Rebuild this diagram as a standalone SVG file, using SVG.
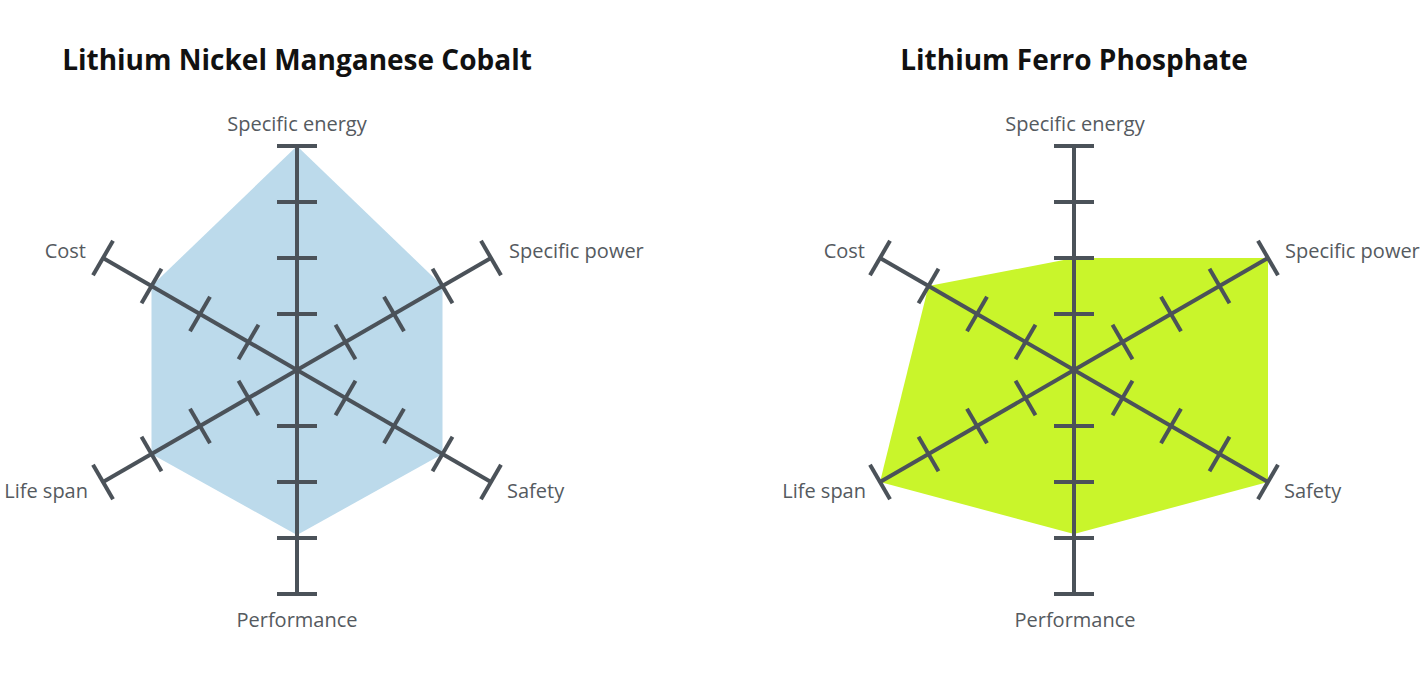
<svg xmlns="http://www.w3.org/2000/svg" xmlns:xlink="http://www.w3.org/1999/xlink" width="1426" height="678" viewBox="0 0 1426 678">
<style>
.title{font-family:"Open Sans","Liberation Sans",sans-serif;font-weight:700;font-size:28px;fill:#111;text-anchor:middle}
.lbl{font-family:"Open Sans","Liberation Sans",sans-serif;font-weight:400;font-size:20px;fill:#555a60}
.ax{stroke:#4b5259;stroke-width:4;fill:none}
.nmc{fill:#bcdaeb}
.lfp{fill:#c9f52b}
</style>
<defs>
<g id="arm">
<line class="ax" x1="0" y1="0" x2="0" y2="-224"/>
<line class="ax" x1="-20" y1="-56" x2="20" y2="-56"/>
<line class="ax" x1="-20" y1="-112" x2="20" y2="-112"/>
<line class="ax" x1="-20" y1="-168" x2="20" y2="-168"/>
<line class="ax" x1="-20" y1="-224" x2="20" y2="-224"/>
</g>
<g id="axes">
<use xlink:href="#arm" href="#arm"/>
<use xlink:href="#arm" href="#arm" transform="rotate(60)"/>
<use xlink:href="#arm" href="#arm" transform="rotate(120)"/>
<use xlink:href="#arm" href="#arm" transform="rotate(180)"/>
<use xlink:href="#arm" href="#arm" transform="rotate(240)"/>
<use xlink:href="#arm" href="#arm" transform="rotate(300)"/>
</g>
</defs>
<rect width="1426" height="678" fill="#ffffff"/>

<g id="chart-nmc">
<text class="title" x="297" y="70">Lithium Nickel Manganese Cobalt</text>
<polygon class="nmc" points="297,146 442.5,286 442.5,454 297,535 151.5,454 151.5,286"/>
<use xlink:href="#axes" href="#axes" transform="translate(297,370)"/>
<text class="lbl" x="297" y="131" text-anchor="middle">Specific energy</text>
<text class="lbl" x="509" y="258">Specific power</text>
<text class="lbl" x="507" y="498">Safety</text>
<text class="lbl" x="297" y="627" text-anchor="middle">Performance</text>
<text class="lbl" x="88" y="498" text-anchor="end">Life span</text>
<text class="lbl" x="86" y="258" text-anchor="end">Cost</text>
</g>

<g id="chart-lfp">
<text class="title" x="1074" y="70">Lithium Ferro Phosphate</text>
<polygon class="lfp" points="1074,258 1268,258 1268,482 1074,534 880,482 928.5,286"/>
<use xlink:href="#axes" href="#axes" transform="translate(1074,370)"/>
<text class="lbl" x="1075" y="131" text-anchor="middle">Specific energy</text>
<text class="lbl" x="1285" y="258">Specific power</text>
<text class="lbl" x="1284" y="498">Safety</text>
<text class="lbl" x="1075" y="627" text-anchor="middle">Performance</text>
<text class="lbl" x="866" y="498" text-anchor="end">Life span</text>
<text class="lbl" x="865" y="258" text-anchor="end">Cost</text>
</g>
</svg>
